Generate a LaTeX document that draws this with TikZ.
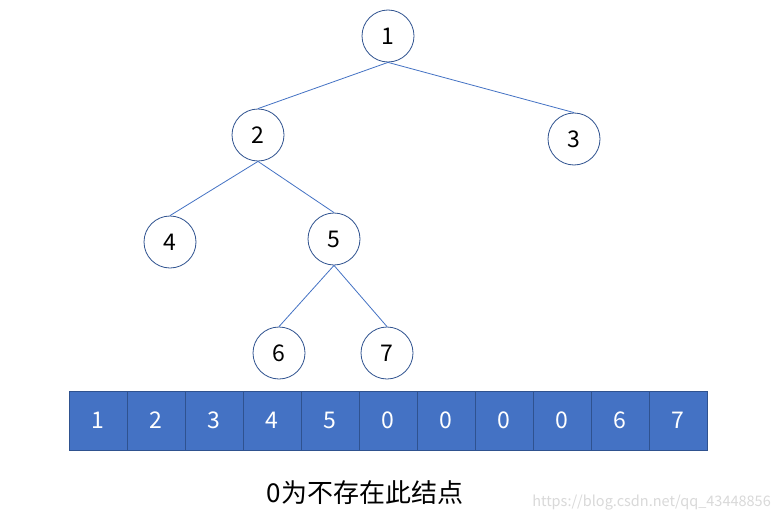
\documentclass[tikz,border=0pt]{standalone}
\usepackage{fontspec}
\setmainfont{Noto Sans CJK SC}
\definecolor{fillblue}{HTML}{4472C4}
\definecolor{darkblue}{HTML}{2F528F}
\begin{document}
\begin{tikzpicture}[x=1pt,y=-1pt,
  treenode/.style={circle,draw=darkblue,line width=0.8pt,minimum size=52pt,inner sep=0pt,font=\fontsize{23}{23}\selectfont},
  edge/.style={draw=fillblue,line width=0.8pt},
  cell/.style={rectangle,draw=darkblue,fill=fillblue,line width=0.8pt,minimum width=58pt,minimum height=59pt,inner sep=0pt,text=white,font=\fontsize{23}{23}\selectfont}]
\useasboundingbox[fill=white] (0,0) rectangle (779,522);
\node[treenode] (n1) at (388,36) {1};
\node[treenode] (n2) at (258,135) {2};
\node[treenode] (n3) at (574,139) {3};
\node[treenode] (n4) at (170,242) {4};
\node[treenode] (n5) at (334,239) {5};
\node[treenode] (n6) at (279,353) {6};
\node[treenode] (n7) at (387,353) {7};
\draw[edge] (n1.south) -- (n2.north);
\draw[edge] (n1.south) -- (n3.north);
\draw[edge] (n2.south) -- (n4.north);
\draw[edge] (n2.south) -- (n5.north);
\draw[edge] (n5.south) -- (n6.north);
\draw[edge] (n5.south) -- (n7.north);
\foreach \v [count=\i] in {1,2,3,4,5,0,0,0,0,6,7} {
  \node[cell] (c\i) at ({69+58*(\i-0.5)},420.5) {\v};
}
\node[font=\fontsize{26}{26}\selectfont,inner sep=0pt] (caption) at (365,493) {0为不存在此结点};
\node[font=\fontsize{14.5}{14.5}\selectfont,text=black!15,inner sep=0pt,anchor=east] (wm) at (771,503) {https://blog.csdn.net/qq\_43448856};
\end{tikzpicture}
\end{document}
